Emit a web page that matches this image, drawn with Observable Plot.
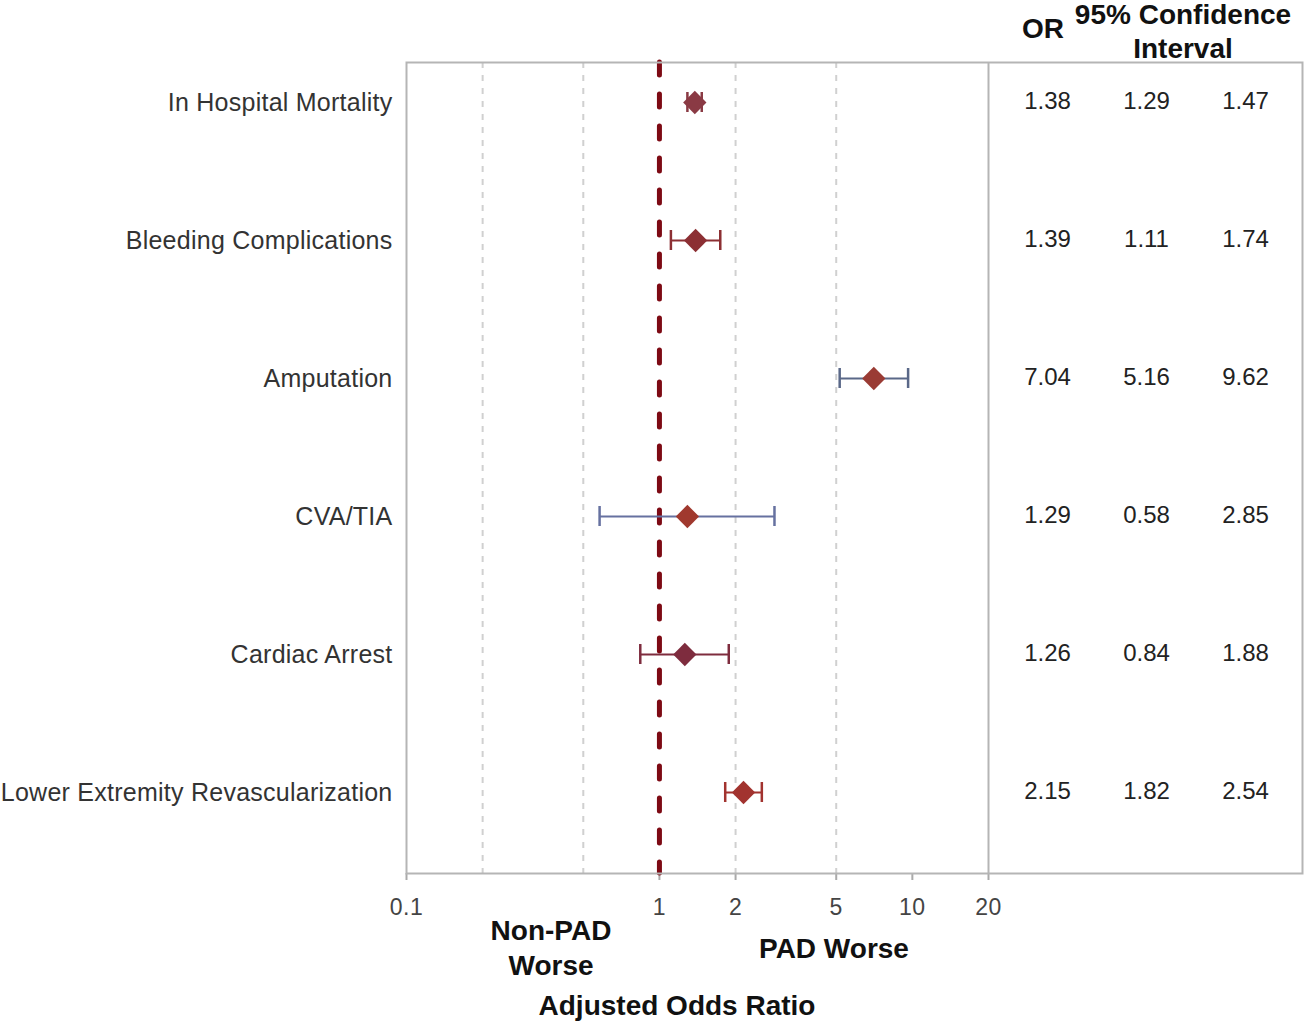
<!DOCTYPE html>
<html>
<head>
<meta charset="utf-8">
<script src="https://cdn.jsdelivr.net/npm/d3@7"></script>
<script src="https://cdn.jsdelivr.net/npm/@observablehq/plot@0.6"></script>
<style>
  html, body { margin: 0; padding: 0; background: #fff; }
  #wrap { position: relative; width: 1306px; height: 1029px; font-family: "Liberation Sans", Arial, sans-serif; }
  .lbl { position: absolute; font-weight: bold; font-size: 28px; color: #111; text-align: center; line-height: 35px; white-space: nowrap; transform: translate(-50%, -50%); }
  #chart [aria-label^="y-axis"] text { font-size: 25px; fill: #333; letter-spacing: 0.25px; }
  #chart [aria-label^="x-axis"] text { font-size: 23px; fill: #444; letter-spacing: 0.5px; }
  #chart [aria-label^="x-axis"] line, #chart [aria-label^="x-axis"] path { stroke: #aaa; stroke-width: 2px; }
</style>
</head>
<body>
<div id="wrap">
  <div id="chart"></div>
  <div class="lbl" style="left:1043px; top:28px;">OR</div>
  <div class="lbl" style="left:1183px; top:32px; line-height:34px;">95% Confidence<br>Interval</div>
  <div class="lbl" style="left:551px; top:948px;">Non-PAD<br>Worse</div>
  <div class="lbl" style="left:834px; top:948px;">PAD Worse</div>
  <div class="lbl" style="left:677px; top:1005px;">Adjusted Odds Ratio</div>
</div>
<script>
const outcomes = ["In Hospital Mortality", "Bleeding Complications", "Amputation", "CVA/TIA", "Cardiac Arrest", "Lower Extremity Revascularization"];
const oddsRatio = [1.38, 1.39, 7.04, 1.29, 1.26, 2.15];
const ciLower = [1.29, 1.11, 5.16, 0.58, 0.84, 1.82];
const ciUpper = [1.47, 1.74, 9.62, 2.85, 1.88, 2.54];
const xTicks = [0.1, 1, 2, 5, 10, 20];
const gridValues = [0.2, 0.5, 2, 5];
const referenceValue = [1];
const dividerValue = [20];

// styling
const markerColors = ["#8a3a44", "#8c2f33", "#9a3b34", "#a0392e", "#7e2c3e", "#a2332f"];
const barColors = ["#8a3a44", "#8c2f33", "#5a6888", "#6671a0", "#7e2c3e", "#a2332f"];

const rows = outcomes.map((label, i) => ({label, or: oddsRatio[i], lo: ciLower[i], hi: ciUpper[i], i}));

const capInset = 59;
const chart = Plot.plot({
  width: 1306,
  height: 1029,
  marginLeft: 406,
  marginRight: 4,
  marginTop: 62,
  marginBottom: 156,
  style: {fontFamily: '"Liberation Sans", Arial, sans-serif', fontSize: "24px", color: "#333", background: "transparent"},
  x: {type: "log", domain: [0.1, 20], range: [406, 988], ticks: xTicks, tickFormat: d => String(d), tickSize: 7, tickPadding: 18, label: null},
  y: {type: "band", domain: outcomes, range: [30.6, 863.4], padding: 0, tickSize: 0, tickPadding: 14, label: null},
  marks: [
    Plot.ruleX(gridValues, {stroke: "#d0d0d0", strokeWidth: 2, strokeDasharray: "6,7"}),
    Plot.ruleX(referenceValue, {stroke: "#7d0a14", strokeWidth: 5, strokeDasharray: "13,19", strokeLinecap: "round"}),
    Plot.ruleX(dividerValue, {stroke: "#b5b5b5", strokeWidth: 2}),
    Plot.frame({stroke: "#b5b5b5", strokeWidth: 2}),
    Plot.ruleY(rows, {y: "label", x1: "lo", x2: "hi", stroke: d => barColors[d.i], strokeWidth: 2}),
    Plot.tickX(rows, {x: "lo", y: "label", stroke: d => barColors[d.i], strokeWidth: 2.5, insetTop: capInset, insetBottom: capInset}),
    Plot.tickX(rows, {x: "hi", y: "label", stroke: d => barColors[d.i], strokeWidth: 2.5, insetTop: capInset, insetBottom: capInset}),
    Plot.dot(rows, {x: "or", y: "label", symbol: "diamond2", r: 10.5, fill: d => markerColors[d.i], stroke: "none"}),
    Plot.text(rows, {y: "label", text: d => d.or.toFixed(2), frameAnchor: "right", dx: -255, dy: -1, textAnchor: "middle", fontSize: 24, fill: "#222"}),
    Plot.text(rows, {y: "label", text: d => d.lo.toFixed(2), frameAnchor: "right", dx: -156, dy: -1, textAnchor: "middle", fontSize: 24, fill: "#222"}),
    Plot.text(rows, {y: "label", text: d => d.hi.toFixed(2), frameAnchor: "right", dx: -57, dy: -1, textAnchor: "middle", fontSize: 24, fill: "#222"})
  ]
});
document.getElementById("chart").appendChild(chart);
</script>
</body>
</html>
